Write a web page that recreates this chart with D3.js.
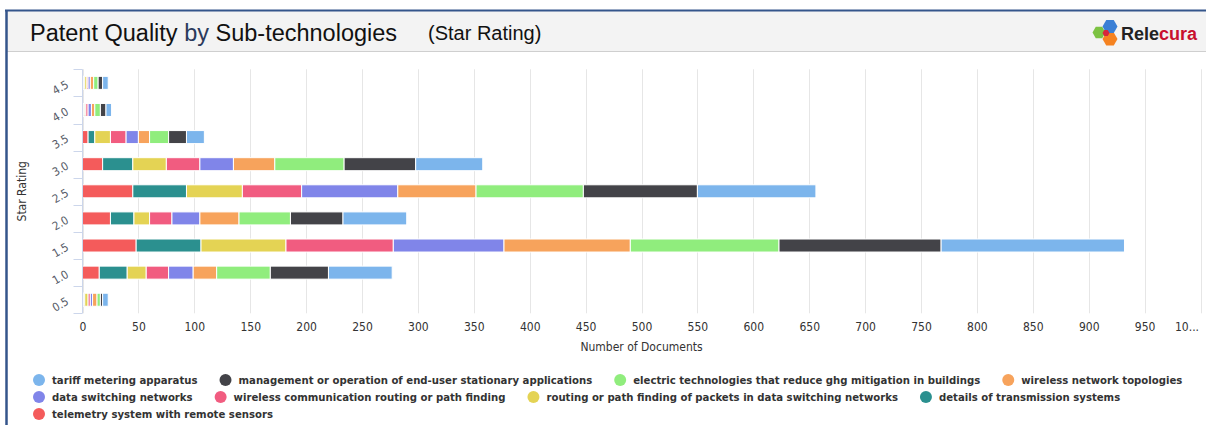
<!DOCTYPE html>
<html>
<head>
<meta charset="utf-8">
<script src="https://cdn.jsdelivr.net/npm/d3@7"></script>
<style>
  body { margin: 0; background: #fff; }
  svg { display: block; }
</style>
</head>
<body>
<svg width="1206" height="425"></svg>
<script>
'use strict'

// star rating rows, top to bottom
var ratings = ["4.5", "4.0", "3.5", "3.0", "2.5", "2.0", "1.5", "1.0", "0.5"];

// series in legend order
var seriesNames = [
  "tariff metering apparatus",
  "management or operation of end-user stationary applications",
  "electric technologies that reduce ghg mitigation in buildings",
  "wireless network topologies",
  "data switching networks",
  "wireless communication routing or path finding",
  "routing or path finding of packets in data switching networks",
  "details of transmission systems",
  "telemetry system with remote sensors"
];
var seriesColors = ["#7cb5ec", "#434348", "#90ed7d", "#f7a35c", "#8085e9", "#f15c80", "#e4d354", "#2b908f", "#f45b5b"];

// documents per rating, one array per series (same order as ratings)
var tariff        = [5, 5, 16, 60, 106, 57, 164, 57, 5];
var management    = [4, 5, 16, 64, 102, 47, 145, 52, 2];
var electric      = [4, 5, 17, 62, 96, 46, 133, 48, 3];
var topologies    = [3, 3, 10, 37, 70, 35, 113, 21, 4];
var dataSwitching = [2, 3, 11, 30, 86, 25, 99, 22, 2];
var wirelessComm  = [1, 2, 14, 30, 53, 20, 96, 20, 2];
var routing       = [2, 1, 14, 30, 50, 14, 76, 17, 3];
var transmission  = [1, 1, 6, 27, 48, 21, 58, 25, 1];
var telemetry     = [1, 1, 5, 18, 45, 25, 48, 15, 1];

var seriesValues = [tariff, management, electric, topologies, dataSwitching, wirelessComm, routing, transmission, telemetry];

var xTicks = d3.range(0, 1001, 50);

var svg = d3.select("svg");
var font = "'DejaVu Sans Condensed', 'DejaVu Sans', sans-serif";

// frame + header
svg.append("rect").attr("x", 7).attr("y", 11).attr("width", 1199).attr("height", 40).attr("fill", "#f3f3f3");
svg.append("line").attr("x1", 7).attr("x2", 1206).attr("y1", 51.5).attr("y2", 51.5).attr("stroke", "#cfcfcf");
svg.append("line").attr("x1", 5).attr("x2", 1206).attr("y1", 10.5).attr("y2", 10.5).attr("stroke", "#34558b").attr("stroke-width", 2);
svg.append("line").attr("x1", 6.5).attr("x2", 6.5).attr("y1", 10).attr("y2", 425).attr("stroke", "#34558b").attr("stroke-width", 2.5);

var title = svg.append("text").attr("x", 30).attr("y", 41)
  .style("font-family", "'Liberation Sans', Arial, sans-serif").style("font-size", "23.5px").attr("fill", "#111");
title.append("tspan").text("Patent Quality ");
title.append("tspan").attr("fill", "#2b3a5c").text("by");
title.append("tspan").text(" Sub-technologies");

svg.append("text").attr("x", 428).attr("y", 39.5)
  .style("font-family", "'Liberation Sans', Arial, sans-serif").style("font-size", "20px").attr("fill", "#111")
  .text("(Star Rating)");

// logo
function hex(cx, cy, r) {
  return d3.range(6).map(function(i) {
    var a = Math.PI / 3 * i;
    return [cx + r * Math.cos(a), cy + r * Math.sin(a)];
  }).join(" ");
}
var logo = svg.append("g");
logo.append("polygon").attr("points", hex(1099, 32.5, 6.5)).attr("fill", "#7cc242");
logo.append("polygon").attr("points", hex(1110, 39, 7.5)).attr("fill", "#f58220");
logo.append("polygon").attr("points", hex(1110, 26.5, 7.5)).attr("fill", "#3a7fd5");
logo.append("polygon").attr("points", hex(1106, 33, 3.5)).attr("fill", "#d7263d");
var logoText = logo.append("text").attr("x", 1121).attr("y", 40)
  .style("font-family", "'Liberation Sans', Arial, sans-serif").style("font-size", "18px").style("font-weight", "bold");
logoText.append("tspan").attr("fill", "#222").text("Rele");
logoText.append("tspan").attr("fill", "#c8102e").text("cura");

// plot
var plot = { left: 82.5, right: 1200.5, top: 69.3, bottom: 313.3 };

var x = d3.scaleLinear().domain([0, 1000]).range([plot.left, plot.right]);
var y = d3.scaleBand().domain(ratings).range([plot.top, plot.bottom]).paddingInner(0.52).paddingOuter(0.26);

// gridlines
svg.append("g").selectAll("line").data(xTicks).enter().append("line")
  .attr("x1", function(d) { return Math.round(x(d)) + 0.5; })
  .attr("x2", function(d) { return Math.round(x(d)) + 0.5; })
  .attr("y1", plot.top).attr("y2", plot.bottom)
  .attr("stroke", "#e6e6e6");

// stacks (first series ends up outermost)
var rows = ratings.map(function(r, i) {
  var o = { rating: r };
  seriesNames.forEach(function(s, j) { o[s] = seriesValues[j][i]; });
  return o;
});
var stack = d3.stack().keys(seriesNames.slice().reverse());
var layers = stack(rows);

svg.append("g").selectAll("g").data(layers).enter().append("g")
  .attr("fill", function(d) { return seriesColors[seriesNames.indexOf(d.key)]; })
  .selectAll("rect").data(function(d) { return d; }).enter().append("rect")
  .attr("x", function(d) { return x(d[0]); })
  .attr("width", function(d) { return Math.max(0, x(d[1]) - x(d[0])); })
  .attr("y", function(d) { return y(d.data.rating); })
  .attr("height", y.bandwidth())
  .attr("stroke", "#fff")
  .attr("stroke-width", 1);

// y axis
var yAxisG = svg.append("g").attr("transform", "translate(" + plot.left + ",0)");
yAxisG.append("line").attr("x1", 0).attr("x2", 0).attr("y1", plot.top).attr("y2", plot.bottom).attr("stroke", "#ccd6eb");
var boundaries = d3.range(ratings.length + 1).map(function(i) { return plot.top + i * y.step(); });
yAxisG.selectAll(".tk").data(boundaries).enter().append("line")
  .attr("x1", -9).attr("x2", 0)
  .attr("y1", function(d) { return Math.round(d) + 0.5; })
  .attr("y2", function(d) { return Math.round(d) + 0.5; })
  .attr("stroke", "#ccd6eb");
yAxisG.selectAll(".lbl").data(ratings).enter().append("text")
  .attr("transform", function(d) { return "translate(-13," + (y(d) + y.bandwidth() / 2 + 4) + ") rotate(-30)"; })
  .attr("text-anchor", "end")
  .style("font-family", font).style("font-size", "11.5px").attr("fill", "#555a66")
  .text(function(d) { return d; });

svg.append("text")
  .attr("transform", "translate(26," + ((plot.top + plot.bottom) / 2) + ") rotate(-90)")
  .attr("text-anchor", "middle")
  .style("font-family", font).style("font-size", "12px").attr("fill", "#333")
  .text("Star Rating");

// x axis
var xAxis = d3.axisBottom(x).tickValues(xTicks).tickSize(0).tickPadding(9)
  .tickFormat(function(d) { return d === 1000 ? "10..." : d; });
var xAxisG = svg.append("g").attr("transform", "translate(0," + plot.bottom + ")").call(xAxis);
xAxisG.select(".domain").remove();
xAxisG.selectAll("text").style("font-family", font).style("font-size", "12px").attr("fill", "#333");
xAxisG.selectAll(".tick").filter(function(d) { return d === 1000; }).select("text")
  .attr("text-anchor", "end").attr("dx", -2);

svg.append("text").attr("x", (plot.left + plot.right) / 2).attr("y", 351)
  .attr("text-anchor", "middle")
  .style("font-family", font).style("font-size", "12px").attr("fill", "#333")
  .text("Number of Documents");

// legend, flowing left to right
var legend = svg.append("g");
var lx = 39, ly = 380, rowH = 17, maxX = 1195;
seriesNames.forEach(function(name, i) {
  var item = legend.append("g");
  var t = item.append("text")
    .attr("y", 4)
    .style("font-family", "'DejaVu Sans', sans-serif").style("font-size", "10.15px").style("font-weight", "bold")
    .attr("fill", "#333")
    .text(name);
  var w = t.node().getComputedTextLength();
  if (lx + 13 + w > maxX) { lx = 39; ly += rowH; }
  item.attr("transform", "translate(" + lx + "," + ly + ")");
  item.insert("circle", "text").attr("r", 6).attr("fill", seriesColors[i]);
  t.attr("x", 13);
  lx += 13 + w + 28;
});
</script>
</body>
</html>
